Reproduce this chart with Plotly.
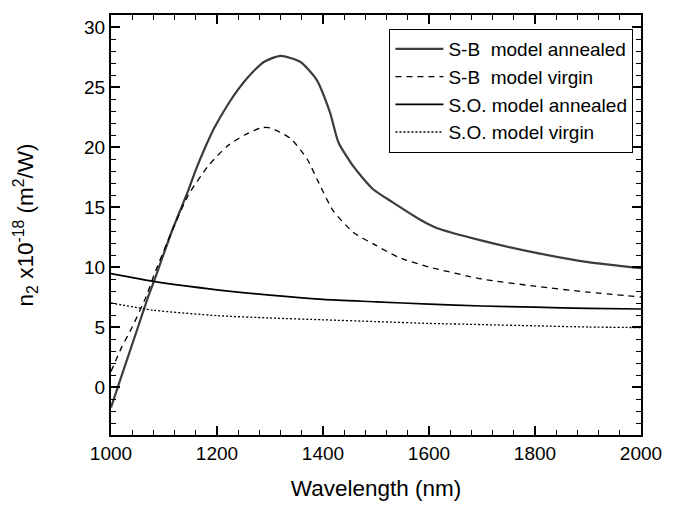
import plotly.graph_objects as go

# ---- data ----
sb_ann_x = [1000, 1025, 1051, 1070, 1081, 1115, 1146, 1160, 1177, 1195, 1220, 1240, 1258, 1289, 1320,
            1357, 1388, 1413, 1429, 1457, 1494, 1531, 1581, 1612, 1700, 1800, 1900, 2000]
sb_ann_y = [-1.7, 1.6, 5.0, 7.5, 8.8, 13.0, 16.4, 18.1, 19.9, 21.6, 23.5, 24.8, 25.8, 27.1, 27.6,
            27.1, 25.6, 22.9, 20.4, 18.4, 16.5, 15.4, 14.0, 13.3, 12.2, 11.2, 10.4, 9.9]

sb_vir_x = [1000, 1020, 1040, 1066, 1081, 1115, 1146, 1183, 1220, 1252, 1283, 1300,
            1339, 1370, 1390, 1419, 1457, 1500, 1543, 1600, 1700, 1800, 1900, 2000]
sb_vir_y = [1.3, 3.3, 5.0, 7.5, 9.3, 13.0, 16.0, 18.4, 20.1, 21.0, 21.6, 21.6,
            20.7, 19.0, 17.2, 14.7, 12.9, 11.8, 10.8, 10.0, 9.0, 8.4, 7.9, 7.5]

so_ann_x = [1000, 1080, 1200, 1300, 1400, 1500, 1600, 1700, 1800, 1900, 2000]
so_ann_y = [9.45, 8.8, 8.1, 7.65, 7.3, 7.1, 6.9, 6.75, 6.65, 6.55, 6.5]

so_vir_x = [1000, 1080, 1200, 1300, 1400, 1500, 1600, 1700, 1800, 1900, 2000]
so_vir_y = [7.0, 6.4, 5.95, 5.75, 5.6, 5.45, 5.3, 5.2, 5.1, 5.0, 4.95]

names = ["S-B\u00a0\u00a0model annealed", "S-B\u00a0\u00a0model virgin",
         "S.O. model annealed", "S.O. model virgin"]

x_ticks = [1000, 1200, 1400, 1600, 1800, 2000]
y_ticks = [0, 5, 10, 15, 20, 25, 30]

FONT = "Liberation Sans, Arial, Helvetica, sans-serif"

fig = go.Figure()
fig.add_trace(go.Scatter(x=sb_ann_x, y=sb_ann_y, mode="lines", name=names[0],
                         line=dict(color="#3c3c3c", width=2.2, shape="spline", smoothing=0.6)))
fig.add_trace(go.Scatter(x=sb_vir_x, y=sb_vir_y, mode="lines", name=names[1],
                         line=dict(color="black", width=1.3, dash="6px,5px", shape="spline", smoothing=0.6)))
fig.add_trace(go.Scatter(x=so_ann_x, y=so_ann_y, mode="lines", name=names[2],
                         line=dict(color="black", width=1.7, shape="spline", smoothing=0.6)))
fig.add_trace(go.Scatter(x=so_vir_x, y=so_vir_y, mode="lines", name=names[3],
                         line=dict(color="black", width=1.3, dash="2px,2px", shape="spline", smoothing=0.6)))

axis_common = dict(
    showline=True, linecolor="black", linewidth=2, mirror="allticks",
    ticks="inside", ticklen=9, tickwidth=1.5, tickcolor="black",
    showgrid=False, zeroline=False,
    tickfont=dict(family=FONT, size=19, color="black"),
)

fig.update_xaxes(
    range=[1000, 2000], tickvals=x_ticks,
    title=dict(text="Wavelength (nm)", font=dict(family=FONT, size=22.5, color="black"), standoff=17),
    minor=dict(ticks="inside", dtick=40, tick0=1000, ticklen=5, tickwidth=1.2, tickcolor="black"),
    **axis_common,
)
fig.update_yaxes(
    range=[-4, 31], tickvals=y_ticks,
    title=dict(text="n<sub>2</sub> x10<sup>-18</sup> (m<sup>2</sup>/W)",
               font=dict(family=FONT, size=22.5, color="black"), standoff=44),
    minor=dict(ticks="inside", dtick=1, tick0=0, ticklen=5, tickwidth=1.2, tickcolor="black"),
    **axis_common,
)

fig.update_layout(
    width=674, height=509,
    margin=dict(l=111, r=28, t=15, b=71),
    paper_bgcolor="white", plot_bgcolor="white",
    font=dict(family=FONT, color="black"),
    showlegend=True,
    legend=dict(x=0.525, y=0.967, xanchor="left", yanchor="top",
                bgcolor="white", bordercolor="black", borderwidth=1.2,
                font=dict(family=FONT, size=19, color="black"),
                tracegroupgap=0, itemwidth=48),
)

fig.write_html("out.html", config={"displayModeBar": False},
               post_script="document.body.style.margin='0';document.body.style.overflow='hidden';")
